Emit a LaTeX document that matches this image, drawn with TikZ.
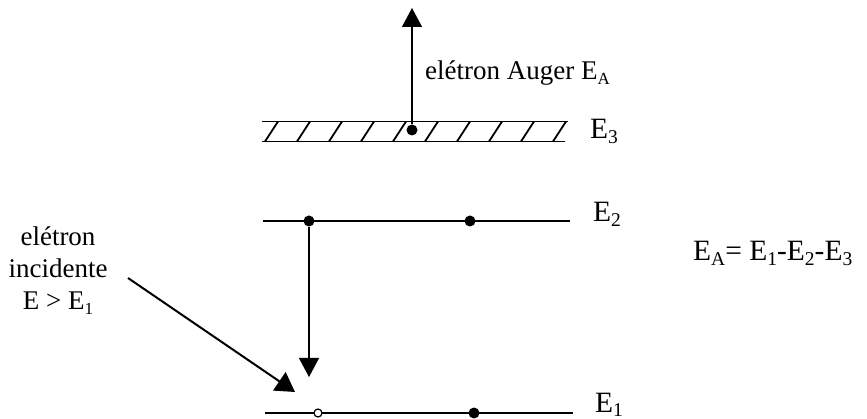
\documentclass[tikz,border=0pt]{standalone}
\usepackage{fontspec}
\setmainfont{Liberation Serif}
\usetikzlibrary{arrows.meta}
\newcommand\lowsub[1]{\raisebox{-0.16em}{\fontsize{17}{17}\selectfont #1}}
\newcommand\bigsub[1]{\raisebox{-0.14em}{\fontsize{19.5}{19.5}\selectfont #1}}
\begin{document}
\begin{tikzpicture}[x=1pt,y=-1pt,
  level/.style={line width=1.9pt},
  hatch/.style={line width=1.8pt},
  fdot/.style={circle,fill=black,inner sep=0pt,minimum size=11pt},
  odot/.style={circle,draw=black,fill=white,line width=1.2pt,inner sep=0pt,minimum size=8pt},
  arr/.style={line width=1.3pt,-{Triangle[length=19pt,width=20pt]}},
  darr/.style={line width=2pt,-{Triangle[length=19pt,width=22pt]}},
  txt/.style={font=\fontsize{27}{32}\selectfont,inner sep=0pt},
  btxt/.style={font=\fontsize{29.5}{34}\selectfont,inner sep=0pt},
]
\useasboundingbox (0,0) rectangle (867,419);
% E3 band
\coordinate (e3tl) at (262,121.5);
\coordinate (e3tr) at (568,121.5);
\coordinate (e3bl) at (262,141.5);
\coordinate (e3br) at (565,141.5);
\draw[level] (e3tl) -- (e3tr);
\draw[level] (e3bl) -- (e3br);
\foreach \k in {0,...,9}{
  \draw[hatch] (265+32*\k,141.5) -- (278+32*\k,121.5);
}
% E2 level
\coordinate (e2l) at (263,221);
\coordinate (e2r) at (570,221);
\draw[level] (e2l) -- (e2r);
% E1 level
\coordinate (e1l) at (265,413);
\coordinate (e1r) at (573,413);
\draw[level] (e1l) -- (e1r);
% dots
\node[fdot] (d3) at (412,130) {};
\node[fdot] (d2a) at (309,221) {};
\node[fdot] (d2b) at (470,221) {};
\node[odot] (h1) at (318,413) {};
\node[fdot] (d1b) at (474,413) {};
% arrows
\coordinate (auger) at (412,8);
\draw[arr] (d3) -- (auger);
\coordinate (down) at (309,377);
\draw[arr] (d2a) -- (down);
\coordinate (incs) at (128,278);
\coordinate (incf) at (295,392);
\draw[darr] (incs) -- (incf);
% labels
\node[btxt,anchor=base west] (lab3) at (590,139) {E\bigsub{3}};
\node[btxt,anchor=base west] (lab2) at (593,222) {E\bigsub{2}};
\node[btxt,anchor=base west] (lab1) at (595,412) {E\bigsub{1}};
\node[txt,anchor=base west] (laug) at (425,80) {elétron Auger E\lowsub{A}};
\node[txt,anchor=base,align=center] (linc) at (58,310) {elétron\\incidente\\E > E\lowsub{1}};
\node[btxt,anchor=base west] (eq) at (693,261) {E\bigsub{A}= E\bigsub{1}-E\bigsub{2}-E\bigsub{3}};
\end{tikzpicture}
\end{document}
